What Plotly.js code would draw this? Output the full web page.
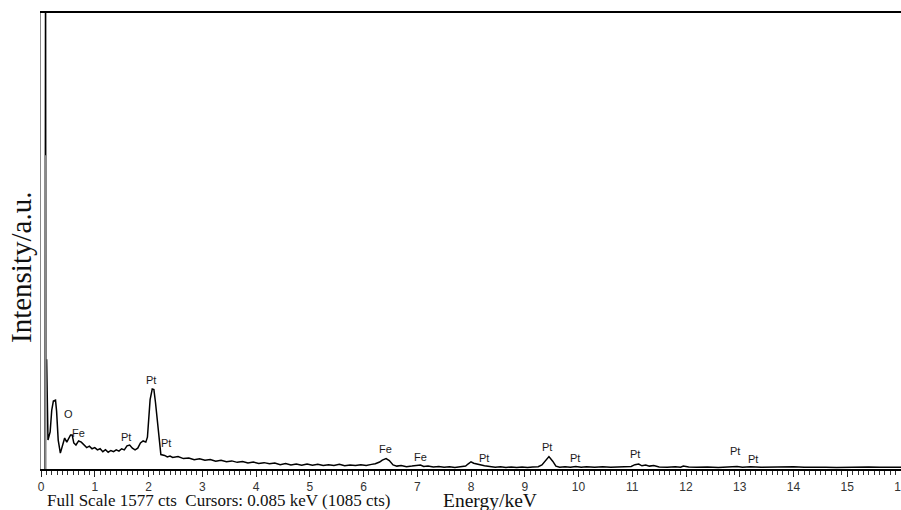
<!DOCTYPE html>
<html>
<head>
<meta charset="utf-8">
<script src="https://cdn.plot.ly/plotly-3.0.1.min.js"></script>
<style>html,body{margin:0;padding:0;background:#fff;}#chart{width:901px;height:510px;}</style>
</head>
<body>
<div id="chart"></div>
<script>
// EDS spectrum (energy in keV, intensity in counts; full scale 1577 cts)
var energyKeV = [
  0.075,0.085,0.090,0.105,0.115,0.13,0.17,0.20,0.23,0.27,
  0.29,0.32,0.36,0.40,0.44,0.48,0.52,0.55,0.58,0.61,
  0.65,0.70,0.75,0.80,0.85,0.90,0.95,1.00,1.05,1.10,
  1.15,1.20,1.25,1.30,1.35,1.40,1.45,1.50,1.55,1.60,
  1.65,1.70,1.75,1.80,1.85,1.90,1.95,1.98,2.00,2.03,
  2.07,2.10,2.13,2.17,2.20,2.23,
  2.30,2.35,2.40,2.45,2.55,2.65,2.75,2.85,2.95,3.05,
  3.15,3.25,3.35,3.45,3.55,3.65,3.75,3.85,3.95,4.05,
  4.15,4.25,4.35,4.45,4.55,4.65,4.75,4.85,4.95,5.05,
  5.15,5.25,5.35,5.45,5.55,5.65,5.75,5.85,5.95,6.05,
  6.15,6.22,6.30,6.35,6.42,6.48,6.55,6.62,6.70,6.80,
  6.90,7.00,7.06,7.12,7.20,7.30,7.40,7.50,7.60,7.70,
  7.80,7.90,7.95,8.00,8.05,8.15,8.25,8.35,8.45,8.55,
  8.65,8.75,8.85,8.95,9.05,9.15,9.25,9.32,9.38,9.45,
  9.52,9.58,9.65,9.75,9.85,9.95,10.05,10.15,10.30,10.45,
  10.60,10.75,10.90,10.98,11.05,11.12,11.18,11.25,11.32,11.40,
  11.50,11.65,11.80,11.90,11.95,12.05,12.20,12.40,12.60,12.80,
  12.95,13.05,13.20,13.40,13.60,13.80,14.00,14.20,14.40,14.60,
  14.80,15.00,15.20,15.40,15.60,15.80,16.00];
var counts = [
  0,1800,377,377,170,100,128,204,235,238,
  200,100,55,80,107,93,110,118,118,90,
  83,97,93,84,74,79,70,74,66,70,
  60,67,58,64,60,66,62,70,66,80,
  83,72,66,72,90,97,93,110,170,240,
  277,275,230,150,90,50,
  47,42,45,40,43,36,38,32,35,30,
  33,27,30,25,28,23,26,21,24,19,
  22,18,21,15,19,14,17,13,17,13,
  16,12,15,12,16,11,14,12,15,12,
  16,18,24,31,36,29,14,10,12,8,
  10,11,14,9,10,7,9,6,8,5,
  7,10,18,25,20,15,11,9,6,8,
  5,7,5,7,5,7,8,14,26,43,
  27,10,6,8,6,9,6,8,6,8,
  6,7,6,9,15,17,11,14,10,12,
  7,6,8,6,10,7,6,7,5,7,
  9,6,8,6,7,6,8,6,7,6,
  5,6,5,7,6,7,6];

// Peak labels
var peakLabels = ["O","Fe","Pt","Pt","Pt","Fe","Fe","Pt","Pt","Pt","Pt","Pt","Pt"];
var peakKeV    = [0.52,0.70,1.58,2.04,2.32,6.40,7.06,8.25,9.42,9.94,11.05,12.92,13.24];
var peakCts    = [190,124,111,308,90,69,43,37,77,37,53,63,33];

// Cursor and scale info
var fullScale = 1577;
var cursorKeV = 0.085;
var cursorCts = 1085;
var tickVals = [0,1,2,3,4,5,6,7,8,9,10,11,12,13,14,15,16];
var tickText = ["0","1","2","3","4","5","6","7","8","9","10","11","12","13","14","15","16"];

var trace = {
  x: energyKeV, y: counts, type: 'scatter', mode: 'lines',
  line: {color: '#000', width: 1.5}, hoverinfo: 'x+y', showlegend: false
};

var serif = '"Liberation Serif", "Times New Roman", serif';
var annotations = peakLabels.map(function(t, i){
  return {x: peakKeV[i], y: peakCts[i], xref: 'x', yref: 'y', text: t, showarrow: false,
          xanchor: 'center', yanchor: 'middle',
          font: {family: 'Arial, "Liberation Sans", sans-serif', size: 11, color: '#1a1a1a'}};
});
annotations.push({xref: 'paper', yref: 'paper', x: 0.005, y: -0.07, xanchor: 'left', yanchor: 'middle',
  text: 'Full Scale ' + fullScale + ' cts\u00a0\u00a0Cursors: ' + cursorKeV.toFixed(3) + ' keV (' + cursorCts + ' cts)',
  showarrow: false, font: {family: serif, size: 17, color: '#111'}});
annotations.push({xref: 'paper', yref: 'paper', x: (490-41)/860, y: -0.07, xanchor: 'center', yanchor: 'middle',
  text: 'Energy/keV', showarrow: false,
  font: {family: serif, size: 19.5, color: '#111'}});
annotations.push({xref: 'paper', yref: 'paper', x: (21-41)/860, y: (469-268)/456, xanchor: 'center', yanchor: 'middle',
  text: 'Intensity/a.u.', textangle: -90, showarrow: false,
  font: {family: serif, size: 29, color: '#111'}});

var layout = {
  width: 901, height: 510,
  margin: {l: 41, r: 0, t: 13, b: 41, pad: 0},
  paper_bgcolor: '#fff', plot_bgcolor: '#fff',
  showlegend: false,
  xaxis: {
    range: [0, 16], showgrid: false, zeroline: false,
    showline: true, linecolor: '#000', linewidth: 2, mirror: true,
    ticks: 'outside', ticklen: 6, tickwidth: 1, tickcolor: '#222',
    tickmode: 'array', tickvals: tickVals, ticktext: tickText,
    ticklabeloverflow: 'allow',
    minor: {dtick: 0.1, ticks: 'outside', ticklen: 4, tickwidth: 1, tickcolor: '#333', showgrid: false},
    tickfont: {family: 'Arial, "Liberation Sans", sans-serif', size: 12, color: '#333'}
  },
  yaxis: {
    range: [0, fullScale], showgrid: false, zeroline: false,
    showline: true, linecolor: '#888', linewidth: 1.5,
    showticklabels: false, ticks: ''
  },
  shapes: [{type: 'line', xref: 'x', yref: 'y', x0: cursorKeV, x1: cursorKeV, y0: 0, y1: cursorCts,
            line: {color: '#8a8a8a', width: 2}, layer: 'above'}],
  annotations: annotations
};

Plotly.newPlot('chart', [trace], layout, {displayModeBar: false, staticPlot: true});
</script>
</body>
</html>
